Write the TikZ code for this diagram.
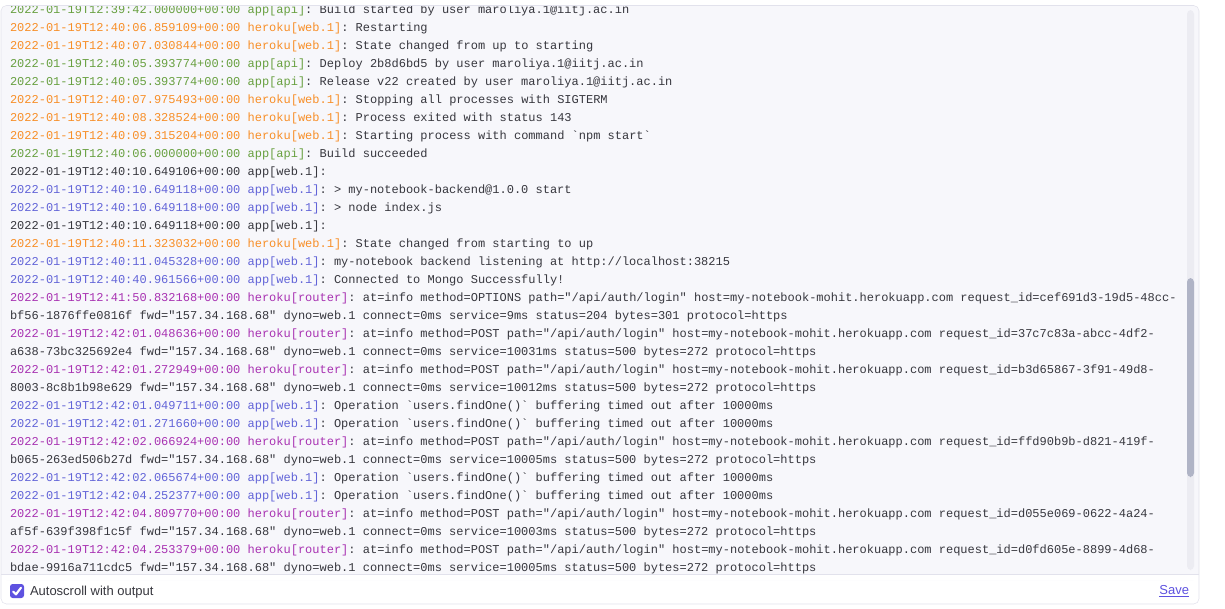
\documentclass[tikz,border=0pt]{standalone}
\usepackage{fontspec}
\setmainfont{Liberation Sans}
\setmonofont{Liberation Mono}
\usepackage{xcolor}
\usepackage{tikz}
\usetikzlibrary{positioning}

\definecolor{logtext}{RGB}{55,55,62}
\definecolor{appgreen}{RGB}{104,160,64}
\definecolor{herokuorange}{RGB}{247,143,40}
\definecolor{routerpurple}{RGB}{168,50,178}
\definecolor{webblue}{RGB}{98,100,216}
\definecolor{panelbg}{RGB}{247,247,251}
\definecolor{panelline}{RGB}{226,226,236}
\definecolor{trackgray}{RGB}{236,236,242}
\definecolor{thumbgray}{RGB}{176,180,198}
\definecolor{accent}{RGB}{94,82,224}

\begin{document}
\begin{tikzpicture}[x=0.75pt, y=-0.75pt,
                   logline/.style={font=\ttfamily\fontsize{9pt}{10pt}\selectfont, text=logtext,
                                   inner sep=0pt, outer sep=0pt, minimum height=13.5pt,
                                   text height=7pt, text depth=2pt, anchor=north west},
                   next/.style={below right=0pt and 0pt of #1.south west},
                   footer/.style={font=\fontsize{9.75pt}{11pt}\selectfont, inner sep=0pt, outer sep=0pt}]
          \useasboundingbox (0,0) rectangle (1225,608);
          % panel
          \fill[white, rounded corners=4] (1,5.5) rectangle (1199,604);
          \fill[panelbg, rounded corners=4] (1,5.5) rectangle (1199,580);
          \fill[white] (1,574) rectangle (1199,580);
          \draw[panelline] (1,574) -- (1199,574);
          \draw[panelline, rounded corners=4] (1,5.5) rectangle (1199,604);
          % scrollbar
          \fill[trackgray, rounded corners=3] (1187,10) rectangle (1194,570);
          \fill[thumbgray, rounded corners=3] (1187,278) rectangle (1194,477);
          \begin{scope}
            \clip (1.5,6) rectangle (1185,573.5);
            \node[logline] (l1) at (10,1) {\textcolor{appgreen}{2022-01-19T12:39:42.000000+00:00 app[api]}: Build started by user maroliya.1@iitj.ac.in};
            \node[logline, next=l1] (l2) {\textcolor{herokuorange}{2022-01-19T12:40:06.859109+00:00 heroku[web.1]}: Restarting};
            \node[logline, next=l2] (l3) {\textcolor{herokuorange}{2022-01-19T12:40:07.030844+00:00 heroku[web.1]}: State changed from up to starting};
            \node[logline, next=l3] (l4) {\textcolor{appgreen}{2022-01-19T12:40:05.393774+00:00 app[api]}: Deploy 2b8d6bd5 by user maroliya.1@iitj.ac.in};
            \node[logline, next=l4] (l5) {\textcolor{appgreen}{2022-01-19T12:40:05.393774+00:00 app[api]}: Release v22 created by user maroliya.1@iitj.ac.in};
            \node[logline, next=l5] (l6) {\textcolor{herokuorange}{2022-01-19T12:40:07.975493+00:00 heroku[web.1]}: Stopping all processes with SIGTERM};
            \node[logline, next=l6] (l7) {\textcolor{herokuorange}{2022-01-19T12:40:08.328524+00:00 heroku[web.1]}: Process exited with status 143};
            \node[logline, next=l7] (l8) {\textcolor{herokuorange}{2022-01-19T12:40:09.315204+00:00 heroku[web.1]}: Starting process with command `npm start`};
            \node[logline, next=l8] (l9) {\textcolor{appgreen}{2022-01-19T12:40:06.000000+00:00 app[api]}: Build succeeded};
            \node[logline, next=l9] (l10) {2022-01-19T12:40:10.649106+00:00 app[web.1]:};
            \node[logline, next=l10] (l11) {\textcolor{webblue}{2022-01-19T12:40:10.649118+00:00 app[web.1]}: > my-notebook-backend@1.0.0 start};
            \node[logline, next=l11] (l12) {\textcolor{webblue}{2022-01-19T12:40:10.649118+00:00 app[web.1]}: > node index.js};
            \node[logline, next=l12] (l13) {2022-01-19T12:40:10.649118+00:00 app[web.1]:};
            \node[logline, next=l13] (l14) {\textcolor{herokuorange}{2022-01-19T12:40:11.323032+00:00 heroku[web.1]}: State changed from starting to up};
            \node[logline, next=l14] (l15) {\textcolor{webblue}{2022-01-19T12:40:11.045328+00:00 app[web.1]}: my-notebook backend listening at http://localhost:38215};
            \node[logline, next=l15] (l16) {\textcolor{webblue}{2022-01-19T12:40:40.961566+00:00 app[web.1]}: Connected to Mongo Successfully!};
            \node[logline, next=l16] (l17) {\textcolor{routerpurple}{2022-01-19T12:41:50.832168+00:00 heroku[router]}: at=info method=OPTIONS path="/api/auth/login" host=my-notebook-mohit.herokuapp.com request\_id=cef691d3-19d5-48cc-};
            \node[logline, next=l17] (l18) {bf56-1876ffe0816f fwd="157.34.168.68" dyno=web.1 connect=0ms service=9ms status=204 bytes=301 protocol=https};
            \node[logline, next=l18] (l19) {\textcolor{routerpurple}{2022-01-19T12:42:01.048636+00:00 heroku[router]}: at=info method=POST path="/api/auth/login" host=my-notebook-mohit.herokuapp.com request\_id=37c7c83a-abcc-4df2-};
            \node[logline, next=l19] (l20) {a638-73bc325692e4 fwd="157.34.168.68" dyno=web.1 connect=0ms service=10031ms status=500 bytes=272 protocol=https};
            \node[logline, next=l20] (l21) {\textcolor{routerpurple}{2022-01-19T12:42:01.272949+00:00 heroku[router]}: at=info method=POST path="/api/auth/login" host=my-notebook-mohit.herokuapp.com request\_id=b3d65867-3f91-49d8-};
            \node[logline, next=l21] (l22) {8003-8c8b1b98e629 fwd="157.34.168.68" dyno=web.1 connect=0ms service=10012ms status=500 bytes=272 protocol=https};
            \node[logline, next=l22] (l23) {\textcolor{webblue}{2022-01-19T12:42:01.049711+00:00 app[web.1]}: Operation `users.findOne()` buffering timed out after 10000ms};
            \node[logline, next=l23] (l24) {\textcolor{webblue}{2022-01-19T12:42:01.271660+00:00 app[web.1]}: Operation `users.findOne()` buffering timed out after 10000ms};
            \node[logline, next=l24] (l25) {\textcolor{routerpurple}{2022-01-19T12:42:02.066924+00:00 heroku[router]}: at=info method=POST path="/api/auth/login" host=my-notebook-mohit.herokuapp.com request\_id=ffd90b9b-d821-419f-};
            \node[logline, next=l25] (l26) {b065-263ed506b27d fwd="157.34.168.68" dyno=web.1 connect=0ms service=10005ms status=500 bytes=272 protocol=https};
            \node[logline, next=l26] (l27) {\textcolor{webblue}{2022-01-19T12:42:02.065674+00:00 app[web.1]}: Operation `users.findOne()` buffering timed out after 10000ms};
            \node[logline, next=l27] (l28) {\textcolor{webblue}{2022-01-19T12:42:04.252377+00:00 app[web.1]}: Operation `users.findOne()` buffering timed out after 10000ms};
            \node[logline, next=l28] (l29) {\textcolor{routerpurple}{2022-01-19T12:42:04.809770+00:00 heroku[router]}: at=info method=POST path="/api/auth/login" host=my-notebook-mohit.herokuapp.com request\_id=d055e069-0622-4a24-};
            \node[logline, next=l29] (l30) {af5f-639f398f1c5f fwd="157.34.168.68" dyno=web.1 connect=0ms service=10003ms status=500 bytes=272 protocol=https};
            \node[logline, next=l30] (l31) {\textcolor{routerpurple}{2022-01-19T12:42:04.253379+00:00 heroku[router]}: at=info method=POST path="/api/auth/login" host=my-notebook-mohit.herokuapp.com request\_id=d0fd605e-8899-4d68-};
            \node[logline, next=l31] (l32) {bdae-9916a711cdc5 fwd="157.34.168.68" dyno=web.1 connect=0ms service=10005ms status=500 bytes=272 protocol=https};
          \end{scope}
          % footer
          \node[fill=accent, rounded corners=2, minimum size=10.5pt, inner sep=0pt, outer sep=0pt] (chk) at (17,591) {};
          \draw[white, line width=1.6pt, line cap=round, line join=round]
            ([shift={(-3.8,0.5)}]chk.center) -- ([shift={(-1,3.3)}]chk.center) -- ([shift={(4,-3.3)}]chk.center);
          \node[footer, text=logtext, anchor=west] (auto) at (30,592) {Autoscroll with output};
          \node[footer, text=accent, anchor=east] (save) at (1189,591) {\underline{Save}};
        \end{tikzpicture}
\end{document}
